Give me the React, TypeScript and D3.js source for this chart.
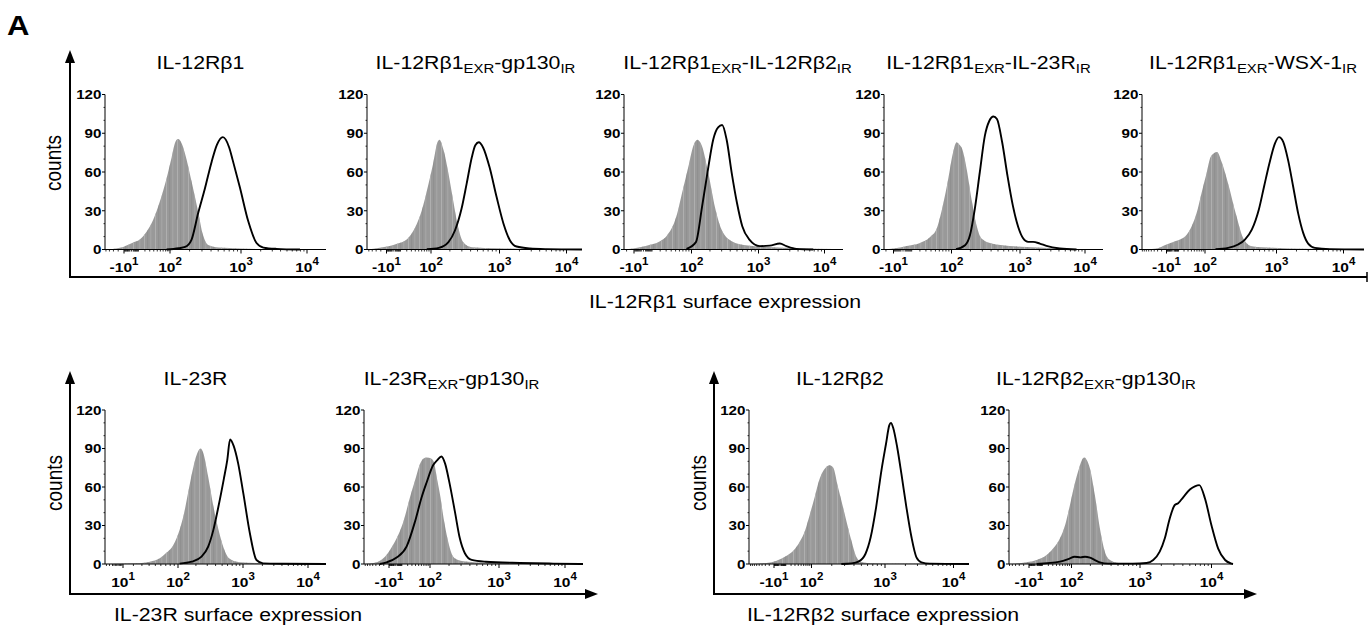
import React from "react";
import * as d3 from "d3";

type Pt = [number, number];

// histograms: [fluorescence intensity, counts]
// grey = unstained / isotype control, black = stained cells
const greyIL12Rb1: Pt[] = [[-53, 0], [-17, 1.3], [2, 5.5], [11.5, 8], [23.5, 14], [38.5, 23], [58, 37], [84, 55], [106, 71], [124, 84], [135, 85.5], [154, 81.7], [172, 74], [213, 53], [265, 29.5], [311, 11], [366, 3.4], [506, 1.5], [968, 0.8], [2450, 0.3], [19400, 0]];
const blackIL12Rb1: Pt[] = [[84, 0], [138, 1], [172, 2], [213, 7.5], [265, 28], [329, 47], [408, 68], [480, 81], [577, 87], [700, 79], [780, 69], [968, 48], [1290, 22], [1730, 5], [2200, 1.5], [3470, 0.5], [7840, 0]];

const greyGp130: Pt[] = [[-56, 0], [-22, 1.3], [4, 4.4], [20.5, 8], [39.5, 17], [60, 30], [88, 51], [108, 66], [128, 83], [138, 85], [160, 77], [190, 59], [224, 38], [266, 17], [315, 5.7], [417, 1.8], [914, 1], [2850, 0.5], [8900, 0.2], [17000, 0]];
const blackGp130: Pt[] = [[80, 0.3], [135, 1.3], [190, 5.7], [238, 14.7], [297, 31.5], [352, 51], [417, 71.6], [466, 80.7], [521, 83], [597, 79], [730, 64], [914, 40.6], [1150, 20], [1440, 7], [1810, 2.3], [2850, 0.8], [5050, 0.3], [17000, 0]];

const greyRb2IR: Pt[] = [[-24, 0], [-11, 0.8], [3.1, 3], [19.7, 6.4], [30.5, 10.3], [52, 25.7], [69.6, 46], [88, 64], [107, 80], [126, 85], [150, 80], [189, 59], [238, 33], [299, 15.4], [421, 6.4], [665, 3.3], [1330, 2], [4260, 1], [13600, 0.3], [19100, 0]];
const blackRb2IR: Pt[] = [[81.5, 0.5], [119, 5.7], [150, 33], [189, 64], [224, 85], [266, 94.6], [305, 96.4], [355, 85], [421, 59], [500, 36], [594, 18], [747, 7.7], [1054, 2.6], [1490, 3], [2120, 4.6], [2670, 2.6], [3790, 0.5], [6770, 0]];

const grey23RIR: Pt[] = [[-23, 0], [-10, 0.8], [3.5, 2.8], [20.2, 5.1], [38.1, 9.7], [52.9, 16], [70, 34], [88, 55], [106, 75], [122, 83], [133, 81.5], [149, 78], [176, 62], [208, 39], [247, 18.7], [292, 8.5], [408, 4.6], [715, 2.8], [1270, 2], [4120, 0.8], [13400, 0.2], [18900, 0]];
const black23RIR: Pt[] = [[119, 0.3], [166, 3.3], [197, 11], [233, 31.5], [276, 60], [326, 88], [377, 99.5], [432, 103], [483, 101], [571, 83], [676, 57], [800, 34], [946, 17.4], [1125, 8.5], [1340, 5.9], [1600, 5.9], [2030, 4.6], [2570, 2.8], [4120, 0.8], [7440, 0]];

const greyWSX: Pt[] = [[-92, 0], [-32, 0.8], [-10, 3.9], [0.7, 5.9], [11.6, 7.7], [26.9, 11.6], [40.8, 18], [58.5, 28], [81.1, 43.7], [106, 59], [124, 72], [154, 75.5], [180, 68], [224, 51], [293, 26], [362, 9], [474, 2.6], [903, 1.3], [2820, 0.5], [20200, 0]];
const blackWSX: Pt[] = [[146, 0.3], [224, 1.3], [309, 3.9], [383, 7.7], [474, 15.4], [588, 31], [690, 49], [811, 67], [953, 82], [1090, 87], [1260, 83.5], [1500, 69], [1780, 49], [2120, 28], [2520, 12.9], [2990, 4.6], [3760, 1.3], [6300, 0.3], [20200, 0]];

const greyIL23R: Pt[] = [[-3, 0], [19.9, 0.5], [41.3, 1.8], [58, 4.4], [70, 8.3], [88, 15], [107, 26.6], [128, 39.7], [153, 58], [183, 76], [218, 88], [237, 90], [260, 86.6], [310, 68], [371, 45], [442, 26.6], [528, 12.3], [630, 4.4], [900, 1.3], [2310, 0.5], [13600, 0], [18900, 0]];
const blackIL23R: Pt[] = [[107, 0.3], [172, 1.8], [245, 5.7], [310, 13.6], [371, 26.6], [442, 45], [528, 66], [594, 81], [653, 97], [735, 92], [848, 79], [1012, 55], [1280, 24], [1620, 3.1], [2050, 0.5], [4180, 0.2], [18900, 0]];

const grey23RGp130: Pt[] = [[-86, 0], [-38, 1.3], [-21, 4.5], [-8.3, 11], [1.2, 20], [11.6, 33], [25.2, 52], [38.4, 65], [54.7, 78], [67.5, 82], [82.5, 83], [106, 82], [118, 78], [132, 65], [148, 52], [165, 36], [184, 23], [206, 12.3], [230, 5.8], [272, 3.2], [380, 1.8], [662, 1], [2080, 0.5], [6650, 0.2], [18750, 0]];
const black23RGp130: Pt[] = [[-29, 0], [-14.3, 1.3], [1.2, 5], [17.9, 13.7], [38.4, 33], [60.9, 52], [82.5, 63.5], [112, 76.7], [132, 81], [153, 83.8], [175, 78], [200, 65], [244, 41], [288, 20], [340, 8.4], [424, 3.2], [662, 1.8], [2080, 0.8], [6650, 0.3], [18750, 0]];

const greyIL12Rb2: Pt[] = [[-99, 0], [-26.7, 0.8], [-5.3, 2.6], [10.7, 6.5], [25.6, 10.4], [46.5, 18], [66, 26], [91, 39], [112, 52], [131, 65], [153, 73], [188, 77], [210, 75], [244, 60], [301, 39], [371, 18], [433, 5.2], [507, 1.3], [693, 0.5], [1660, 0.3], [16850, 0]];
const blackIL12Rb2: Pt[] = [[271, 0], [371, 0.5], [457, 1.8], [563, 7.8], [659, 21], [771, 44], [902, 73], [1034, 93.5], [1157, 108], [1224, 110], [1324, 106], [1514, 91], [1750, 70], [2070, 44], [2450, 21], [2900, 5.2], [3430, 1.3], [4540, 0.3], [16850, 0]];

const greyRb2Gp130: Pt[] = [[-62, 0], [-14, 1.3], [0.9, 3.1], [16.6, 7], [31.4, 12.2], [50.8, 20], [69.4, 30], [92, 46], [112, 61.5], [133, 74.5], [152, 82], [163, 83], [176, 81], [197, 74.5], [233, 54], [276, 28], [326, 9.6], [386, 3.1], [511, 0.8], [1000, 0.3], [20000, 0]];
const blackRb2Gp130: Pt[] = [[0.9, 0], [50.8, 1.8], [92, 4.4], [112, 5.7], [141, 5.2], [166, 5.7], [197, 4.9], [233, 3.1], [276, 1.3], [365, 0.3], [800, 0.3], [1240, 0.8], [1540, 3.1], [1900, 9.6], [2240, 20], [2630, 35.6], [3090, 46], [3440, 47.3], [4040, 52], [5010, 58], [5880, 60.5], [6770, 61.5], [8120, 51], [10000, 30], [12400, 12], [15500, 3.1], [18600, 0.5], [20000, 0]];

const countTicks = [0, 30, 60, 90, 120];
const minorCounts = [10, 20, 40, 50, 70, 80, 100, 110];
const minorIntensity = [-90, -80, -70, -60, -50, -40, -30, -20, -9, -8, -7, -6, -5, -4, -3, -2, 0, 2, 3, 4, 5, 6, 7, 8, 9,
  20, 30, 40, 50, 60, 70, 80, 90, 200, 300, 400, 500, 600, 700, 800, 900, 2000, 3000, 4000, 5000, 6000, 7000, 8000, 9000];

const FONT = "'Liberation Sans', Arial, Helvetica, sans-serif";
const SX = 1.15; // the published figure is stretched horizontally

type Cfg = {
  title: string; grey: Pt[]; black: Pt[];
  x0: number; top: number; bottom: number;
  dom: number[]; off: number[]; dx: number;
};

const TOP = { top: 94.5, bottom: 249.5 };
const BOT = { top: 410, bottom: 564 };

// logicle-like display: piecewise symlog, anchored on the figure's decade ticks
const panels: Cfg[] = [
  { title: "IL-12Rβ1", grey: greyIL12Rb1, black: blackIL12Rb1, x0: 105, ...TOP, dom: [-53, -10, 100, 1000, 10000, 19400], off: [0, 19, 65, 136, 202, 221], dx: -15 },
  { title: "IL-12Rβ1_{EXR}-gp130_{IR}", grey: greyGp130, black: blackGp130, x0: 367, ...TOP, dom: [-56, -10, 100, 1000, 10000, 17000], off: [0, 19.5, 64, 132.5, 199.5, 215], dx: 1 },
  { title: "IL-12Rβ1_{EXR}-IL-12Rβ2_{IR}", grey: greyRb2IR, black: blackRb2IR, x0: 624, ...TOP, dom: [-24, -10, 100, 1000, 10000, 19100], off: [0, 10, 67.5, 134.5, 200.5, 219], dx: 4 },
  { title: "IL-12Rβ1_{EXR}-IL-23R_{IR}", grey: grey23RIR, black: black23RIR, x0: 884, ...TOP, dom: [-23, -10, 100, 1000, 10000, 18900], off: [0, 9.5, 67.5, 136, 201, 219], dx: -5 },
  { title: "IL-12Rβ1_{EXR}-WSX-1_{IR}", grey: greyWSX, black: blackWSX, x0: 1142, ...TOP, dom: [-92, -10, 100, 1000, 10000, 20200], off: [0, 24.5, 63, 134.5, 201.5, 222], dx: 0 },
  { title: "IL-23R", grey: greyIL23R, black: blackIL23R, x0: 105, ...BOT, dom: [-3, 10, 100, 1000, 10000, 18900], off: [0, 18, 73, 138, 203, 221], dx: -20 },
  { title: "IL-23R_{EXR}-gp130_{IR}", grey: grey23RGp130, black: black23RGp130, x0: 364, ...BOT, dom: [-86, -10, 100, 1000, 10000, 18750], off: [0, 25, 66, 135, 201, 219], dx: -22 },
  { title: "IL-12Rβ2", grey: greyIL12Rb2, black: blackIL12Rb2, x0: 749, ...BOT, dom: [-99, -10, 100, 1000, 10000, 16850], off: [0, 25, 62.5, 136, 204.5, 220], dx: -19 },
  { title: "IL-12Rβ2_{EXR}-gp130_{IR}", grey: greyRb2Gp130, black: blackRb2Gp130, x0: 1009, ...BOT, dom: [-62, -10, 100, 1000, 10000, 20000], off: [0, 20, 62.5, 131, 202.5, 224], dx: -25 },
];

function Title({ text, x, y }: { text: string; x: number; y: number }) {
  const parts = text.split(/(_\{[^}]*\})/).filter(Boolean);
  return (
    <text transform={`translate(${x},${y}) scale(${SX},1)`} textAnchor="middle" fontSize={18.5}>
      {parts.map((s, i) => {
        const sub = s.startsWith("_{");
        const afterSub = i > 0 && parts[i - 1].startsWith("_{");
        return sub
          ? <tspan key={i} dy={4} fontSize={13}>{s.slice(2, -1)}</tspan>
          : <tspan key={i} dy={afterSub ? -4 : 0}>{s}</tspan>;
      })}
    </text>
  );
}

function Histogram({ p }: { p: Cfg }) {
  const x = d3.scaleSymlog().constant(30).domain(p.dom).range(p.off.map((o) => p.x0 + o));
  const y = d3.scaleLinear().domain([0, 120]).range([p.bottom, p.top]);
  const area = d3.area<Pt>().x((d) => x(d[0])).y0(y(0)).y1((d) => y(d[1])).curve(d3.curveMonotoneX);
  const line = d3.line<Pt>().x((d) => x(d[0])).y((d) => y(d[1])).curve(d3.curveMonotoneX);
  const lo = p.dom[0];
  const hi = p.dom[p.dom.length - 1];
  const majors = p.dom.slice(1, 5);
  const minors = minorIntensity.filter((v) => v > lo && v < hi && !majors.includes(v));
  const xa = x(lo);
  const xb = x(hi);

  return (
    <g>
      <Title text={p.title} x={(xa + xb) / 2 + p.dx} y={p.top - 25.5} />
      <path d={area(p.grey) ?? ""} fill="#999" />
      <path d={area(p.grey) ?? ""} fill="url(#binStripes)" />
      <path d={line(p.black) ?? ""} fill="none" stroke="#000" strokeWidth={1.9} strokeLinejoin="round" />

      {/* y axis */}
      <line x1={p.x0} x2={p.x0} y1={y(0)} y2={y(120)} stroke="#000" strokeWidth={1} />
      {minorCounts.map((v) => (
        <line key={"m" + v} x1={p.x0 - 1.5} x2={p.x0} y1={y(v)} y2={y(v)} stroke="#000" strokeWidth={0.8} />
      ))}
      {countTicks.map((v) => (
        <g key={v}>
          <line x1={p.x0 - 3} x2={p.x0} y1={y(v)} y2={y(v)} stroke="#000" strokeWidth={1} />
          <text transform={`translate(${p.x0 - 3.5},${y(v) + 4.8}) scale(${SX},1)`} textAnchor="end" fontSize={13.2} fontWeight="bold">{v}</text>
        </g>
      ))}

      {/* x axis */}
      <line x1={xa} x2={xb} y1={y(0)} y2={y(0)} stroke="#000" strokeWidth={1} />
      {minors.map((v) => (
        <line key={"n" + v} x1={x(v)} x2={x(v)} y1={y(0)} y2={y(0) + 2} stroke="#000" strokeWidth={0.8} />
      ))}
      {majors.map((v) => (
        <g key={v}>
          <line x1={x(v)} x2={x(v)} y1={y(0)} y2={y(0) + 4} stroke="#000" strokeWidth={1} />
          <text transform={`translate(${x(v)},${y(0) + 22.5}) scale(${SX},1)`} textAnchor="middle" fontSize={13.5} fontWeight="bold">
            {v < 0 ? "-10" : "10"}
            <tspan dy={-7} fontSize={10}>{Math.round(Math.log10(Math.abs(v)))}</tspan>
          </text>
        </g>
      ))}
    </g>
  );
}

function Frame({ x, y, tip, end, arrowEnd, yLabelX, yLabelY, label, labelX, labelY }: {
  x: number; y: number; tip: number; end: number; arrowEnd: boolean;
  yLabelX: number; yLabelY: number; label: string; labelX: number; labelY: number;
}) {
  return (
    <g>
      <line x1={x} x2={x} y1={y + 1} y2={tip + 10} stroke="#000" strokeWidth={2} />
      <path d={`M${x},${tip} L${x - 5},${tip + 13} L${x + 5},${tip + 13} Z`} fill="#000" />
      <line x1={x - 1} x2={arrowEnd ? end - 10 : end} y1={y} y2={y} stroke="#000" strokeWidth={2} />
      {arrowEnd
        ? <path d={`M${end},${y} L${end - 13},${y - 5} L${end - 13},${y + 5} Z`} fill="#000" />
        : <line x1={end} x2={end} y1={y - 5} y2={y + 5} stroke="#000" strokeWidth={1.5} />}
      <text transform={`translate(${yLabelX},${yLabelY}) scale(${SX},1) rotate(-90)`} textAnchor="middle" fontSize={19}>counts</text>
      <text transform={`translate(${labelX},${labelY}) scale(${SX},1)`} textAnchor="middle" fontSize={18.5}>{label}</text>
    </g>
  );
}

export default function App() {
  return (
    <svg width={1368} height={635} style={{ position: "absolute", left: 0, top: 0, background: "#fff" }} fontFamily={FONT}>
      <defs>
        {/* faint bin-edge streaks seen in the exported control histograms */}
        <pattern id="binStripes" patternUnits="userSpaceOnUse" width={11} height={10}>
          <rect x={1} y={0} width={0.8} height={10} fill="#b4b4b4" />
          <rect x={4.5} y={0} width={0.6} height={10} fill="#888" />
          <rect x={7.5} y={0} width={0.7} height={10} fill="#aeaeae" />
        </pattern>
      </defs>
      <rect width={1368} height={635} fill="#fff" />
      <text transform={`translate(7,35) scale(${SX},1)`} fontSize={27} fontWeight="bold">A</text>

      <Frame x={70} y={277} tip={50} end={1367} arrowEnd={false} yLabelX={61} yLabelY={163}
        label="IL-12Rβ1 surface expression" labelX={725} labelY={308} />
      <Frame x={70} y={594} tip={371} end={598} arrowEnd={true} yLabelX={62} yLabelY={483}
        label="IL-23R surface expression" labelX={238} labelY={621} />
      <Frame x={714} y={594} tip={371} end={1257} arrowEnd={true} yLabelX={706} yLabelY={483}
        label="IL-12Rβ2 surface expression" labelX={883} labelY={621} />

      {panels.map((p, i) => <Histogram key={i} p={p} />)}
    </svg>
  );
}
